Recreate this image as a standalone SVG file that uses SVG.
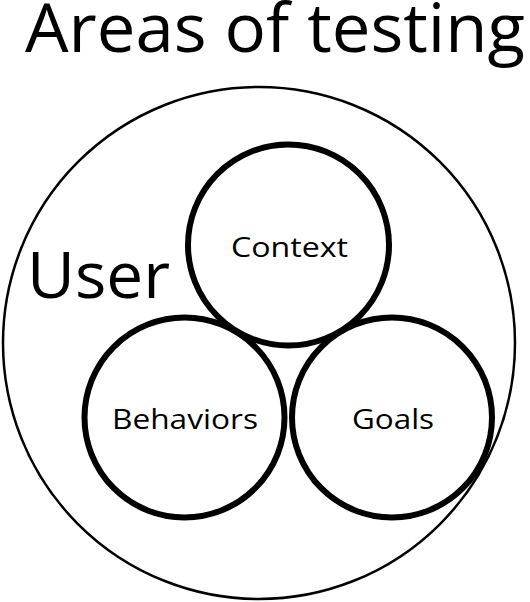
<svg xmlns="http://www.w3.org/2000/svg" width="530" height="602" viewBox="0 0 530 602">
<style>
.area{fill:none;stroke:#000;stroke-width:6}
.user{fill:none;stroke:#000;stroke-width:2.5}
.lbl{font-family:"Open Sans","Noto Sans",sans-serif;font-size:28px;fill:#000;text-anchor:middle}
.big{font-family:"Open Sans","Noto Sans",sans-serif;fill:#000}
</style>
<rect width="530" height="602" fill="#fff"/>
<text class="big" x="25" y="52" font-size="68" textLength="500" lengthAdjust="spacingAndGlyphs">Areas of testing</text>
<g id="user">
<circle class="user" cx="259" cy="343" r="256"/>
<text class="big" x="27" y="298" font-size="64" textLength="143" lengthAdjust="spacingAndGlyphs">User</text>
</g>
<g id="context">
<circle class="area" cx="288.5" cy="245" r="100.5"/>
<text class="lbl" x="289.5" y="257" textLength="117" lengthAdjust="spacingAndGlyphs">Context</text>
</g>
<g id="behaviors">
<circle class="area" cx="184.5" cy="417.5" r="100"/>
<text class="lbl" x="185" y="429" textLength="146" lengthAdjust="spacingAndGlyphs">Behaviors</text>
</g>
<g id="goals">
<circle class="area" cx="392" cy="417.5" r="100"/>
<text class="lbl" x="393" y="429" textLength="82" lengthAdjust="spacingAndGlyphs">Goals</text>
</g>
<g id="connectors"/>
</svg>
